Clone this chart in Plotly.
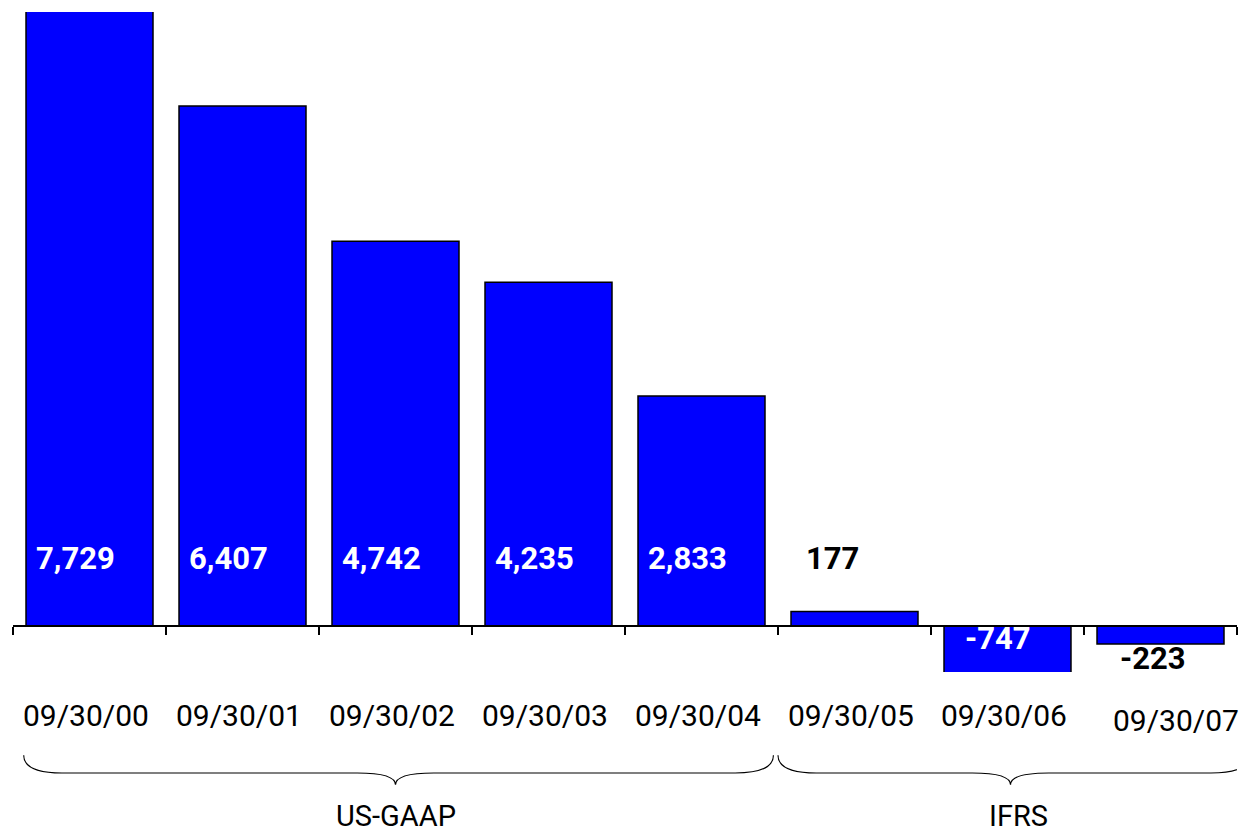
import plotly.graph_objects as go

categories = ["09/30/00", "09/30/01", "09/30/02", "09/30/03", "09/30/04",
              "09/30/05", "09/30/06", "09/30/07"]
values = [7729, 6407, 4742, 4235, 2833, 177, -747, -223]
value_text = ["7,729", "6,407", "4,742", "4,235", "2,833", "177", "-747", "-223"]
groups = ["US-GAAP", "IFRS"]
group_spans = [(0, 4), (5, 7)]

Y_MIN, Y_MAX = -567, 7566

fig = go.Figure()
fig.add_trace(go.Bar(
    x=list(range(len(categories))), y=values,
    marker=dict(color="#0000FF", line=dict(color="#000000", width=1.5)),
    width=0.83, hoverinfo="skip",
))

ann = []
for i, (v, t) in enumerate(zip(values, value_text)):
    if v >= 0:
        color = "white" if v > 1000 else "black"
        ann.append(dict(x=i, y=0, yshift=67, xshift=-14 if v > 1000 else -22, text=t,
                        showarrow=False,
                        font=dict(family="Roboto", size=31, color=color, weight="bold"),
                        xanchor="center", yanchor="middle"))
    elif v < -500:
        ann.append(dict(x=i, y=0, yshift=-13, xshift=-10, text=t, showarrow=False,
                        font=dict(family="Roboto", size=31, color="white", weight="bold"),
                        xanchor="center", yanchor="middle"))
    else:
        ann.append(dict(x=i, y=v, yshift=-14, xshift=-8, text=t, showarrow=False,
                        font=dict(family="Roboto", size=31, color="black", weight="bold"),
                        xanchor="center", yanchor="middle"))

for i, c in enumerate(categories):
    last = i == len(categories) - 1
    ann.append(dict(x=i, y=-0.066, yref="paper", xshift=15 if last else -4,
                    yshift=-5 if last else 0, text=c, showarrow=False,
                    font=dict(family="Roboto", size=30, color="black"),
                    xanchor="center", yanchor="middle"))

shapes = []
y_top, y_flat, y_tip = -0.126, -0.153, -0.171
for (a, b), g in zip(group_spans, groups):
    x0 = a - 0.43 if a == 0 else a - 0.5
    x1 = b + 0.47 if b < len(categories) - 1 else b + 0.58
    xm = (x0 + x1) / 2 - 0.02
    d = 0.25
    path = (f"M {x0},{y_top} Q {x0},{y_flat} {x0+d},{y_flat} "
            f"L {xm-d},{y_flat} Q {xm},{y_flat} {xm},{y_tip} "
            f"Q {xm},{y_flat} {xm+d},{y_flat} "
            f"L {x1-d},{y_flat} Q {x1},{y_flat} {x1},{y_top}")
    shapes.append(dict(type="path", path=path, xref="x", yref="paper",
                       line=dict(color="black", width=1.2)))
    ann.append(dict(x=xm, y=-0.218, yref="paper", xshift=8 if a > 0 else 0, text=g,
                    showarrow=False,
                    font=dict(family="Roboto", size=29, color="black"),
                    xanchor="center", yanchor="middle"))

fig.update_layout(
    width=1242, height=826,
    margin=dict(l=5, r=13, t=4, b=162),
    plot_bgcolor="white", paper_bgcolor="white",
    showlegend=False,
    bargap=0.17,
    annotations=ann, shapes=shapes,
    xaxis=dict(range=[-0.5, len(categories) - 0.5],
               tickvals=[i - 0.5 for i in range(len(categories) + 1)],
               showticklabels=False, ticks="outside", ticklen=8, tickwidth=1.5,
               tickcolor="black", showline=True, linecolor="black", linewidth=2,
               showgrid=False, zeroline=False,
               anchor="free", position=(0 - Y_MIN) / (Y_MAX - Y_MIN)),
    yaxis=dict(range=[Y_MIN, Y_MAX], visible=False, showgrid=False, zeroline=False),
)

fig.write_html("out.html")
